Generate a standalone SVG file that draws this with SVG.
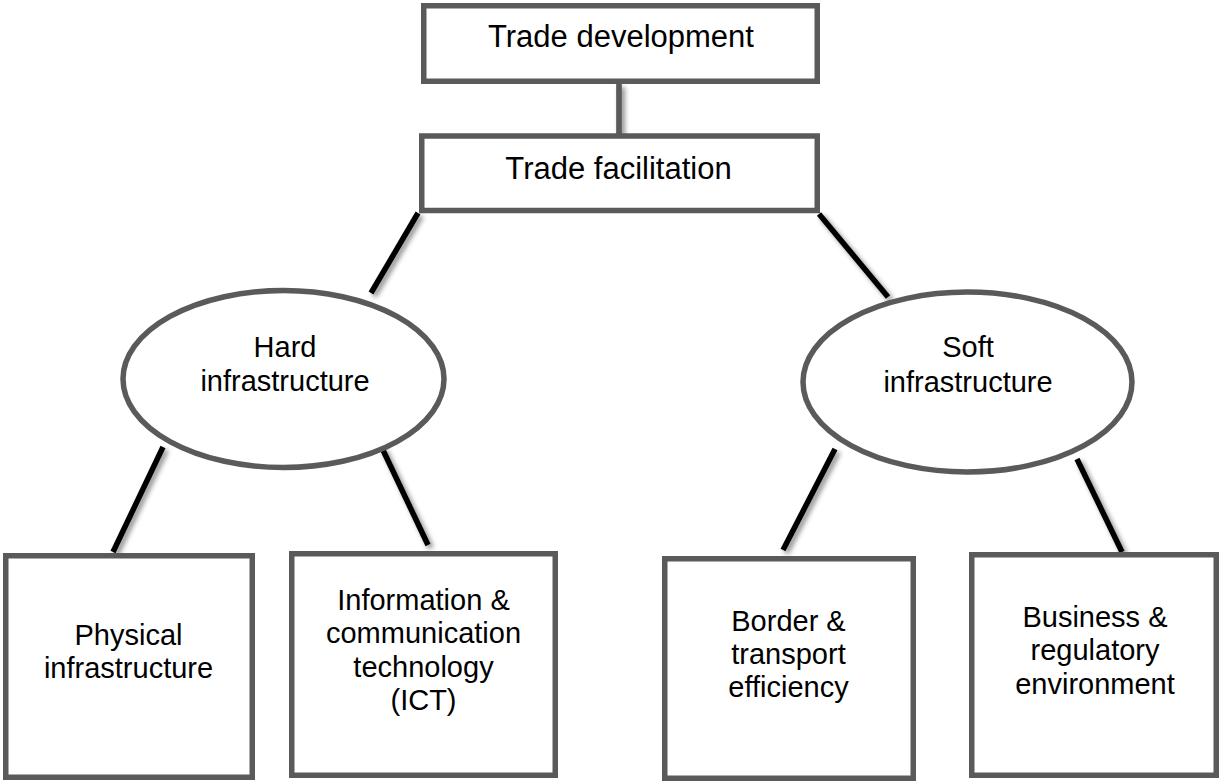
<svg xmlns="http://www.w3.org/2000/svg" width="1219" height="782" viewBox="0 0 1219 782">
  <style>
    .box { fill: #ffffff; stroke: #5a5a5a; stroke-width: 5.5; }
    .link { stroke: #000000; stroke-width: 5.5; stroke-linecap: butt; fill: none; }
    .stem { stroke: #5a5a5a; stroke-width: 5.7; fill: none; }
    .lbl { font-family: "Liberation Sans", Arial, sans-serif; fill: #000000; text-anchor: middle; }
    .big { font-size: 31px; }
    .small { font-size: 29px; }
  </style>
  <defs>
    <filter id="shadow" x="-50%" y="-50%" width="200%" height="200%">
      <feDropShadow dx="3" dy="3" stdDeviation="2.5" flood-color="#000000" flood-opacity="0.45"/>
    </filter>
  </defs>

  <!-- connectors -->
  <g id="connectors" filter="url(#shadow)">
    <line class="stem" x1="619" y1="84" x2="619" y2="134"/>
    <line class="link" x1="418" y1="213" x2="371" y2="293"/>
    <line class="link" x1="819" y1="214" x2="888" y2="297"/>
    <line class="link" x1="163" y1="447" x2="113" y2="552"/>
    <line class="link" x1="382" y1="448" x2="428" y2="545"/>
    <line class="link" x1="835" y1="449" x2="783" y2="550"/>
    <line class="link" x1="1077" y1="459" x2="1122" y2="552"/>
  </g>

  <g id="trade-development">
    <rect class="box" x="423.75" y="5.75" width="393.5" height="75.5"/>
    <text class="lbl big" x="621" y="46.7">Trade development</text>
  </g>

  <g id="trade-facilitation">
    <rect class="box" x="421.75" y="136" width="395.5" height="74.5"/>
    <text class="lbl big" x="618.5" y="179">Trade facilitation</text>
  </g>

  <g id="hard-infrastructure">
    <ellipse class="box" cx="283.5" cy="379" rx="160.5" ry="88.5"/>
    <text class="lbl small"><tspan x="285" y="356.7">Hard</tspan><tspan x="285" y="390.5">infrastructure</tspan></text>
  </g>

  <g id="soft-infrastructure">
    <ellipse class="box" cx="967.5" cy="382" rx="164.5" ry="90"/>
    <text class="lbl small"><tspan x="968" y="357">Soft</tspan><tspan x="968" y="391.5">infrastructure</tspan></text>
  </g>

  <g id="physical-infrastructure">
    <rect class="box" x="5.75" y="555.75" width="246.5" height="221.5"/>
    <text class="lbl small"><tspan x="128.5" y="645">Physical</tspan><tspan x="128.5" y="677.5">infrastructure</tspan></text>
  </g>

  <g id="ict">
    <rect class="box" x="291.75" y="553.75" width="263.5" height="221.5"/>
    <text class="lbl small"><tspan x="423.5" y="610">Information &amp;</tspan><tspan x="423.5" y="643.3">communication</tspan><tspan x="423.5" y="676.6">technology</tspan><tspan x="423.5" y="710">(ICT)</tspan></text>
  </g>

  <g id="border-transport">
    <rect class="box" x="664.75" y="558.75" width="248.5" height="219.5"/>
    <text class="lbl small"><tspan x="788.5" y="630.7">Border &amp;</tspan><tspan x="788.5" y="664">transport</tspan><tspan x="788.5" y="697.3">efficiency</tspan></text>
  </g>

  <g id="business-regulatory">
    <rect class="box" x="971.75" y="554.75" width="244.5" height="220.5"/>
    <text class="lbl small"><tspan x="1095" y="626.7">Business &amp;</tspan><tspan x="1095" y="660">regulatory</tspan><tspan x="1095" y="694">environment</tspan></text>
  </g>
</svg>
